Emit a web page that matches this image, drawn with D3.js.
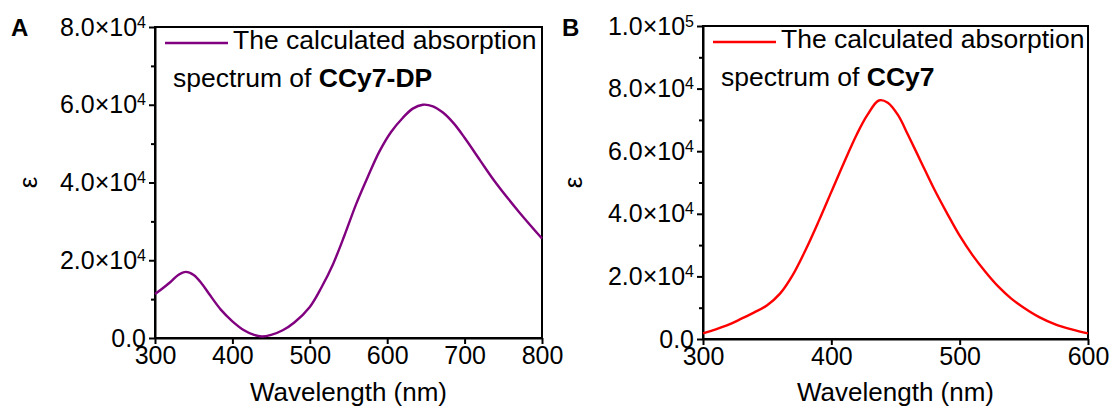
<!DOCTYPE html>
<html>
<head>
<meta charset="utf-8">
<script src="https://cdn.jsdelivr.net/npm/d3@7/dist/d3.min.js"></script>
<style>
  body { margin: 0; background: #fff; }
  svg { font-family: "Liberation Sans", Arial, sans-serif; }
</style>
</head>
<body>
<div id="chart"></div>
<script>
// Panel A - calculated spectrum of CCy7-DP
const wavelengthA = [300, 310, 320, 330, 340, 350, 360, 370, 385, 400, 415, 428, 438, 450, 465, 480, 500, 515, 530, 545, 560, 575, 590, 605, 620, 633, 646, 659, 672, 686, 700, 720, 740, 770, 800];
const epsA = [11300, 12800, 14400, 16200, 17000, 16200, 14100, 11300, 7300, 4300, 2000, 800, 400, 800, 2000, 4000, 8000, 13000, 19000, 26500, 34500, 41500, 48000, 53000, 56600, 59000, 60000, 59600, 58000, 55200, 51500, 45700, 40000, 32500, 25600];

// Panel B - calculated spectrum of CCy7
const wavelengthB = [300, 310, 320, 330, 340, 350, 360, 370, 380, 390, 400, 410, 420, 428, 437, 444, 452, 460, 470, 480, 490, 500, 510, 520, 530, 540, 550, 562, 575, 588, 600];
const epsB = [1800, 3100, 4600, 6500, 8500, 10800, 14500, 20500, 28500, 37500, 47000, 56500, 65500, 71500, 76200, 75500, 71500, 65000, 56500, 48000, 40300, 33000, 26800, 21500, 16800, 13000, 10000, 7000, 4600, 3000, 1800];

// Ticks
const xTicksA = [300, 400, 500, 600, 700, 800];
const yTicksA = [0, 20000, 40000, 60000, 80000];
const yMinorA = [10000, 30000, 50000, 70000];
const xTicksB = [300, 400, 500, 600];
const yTicksB = [0, 20000, 40000, 60000, 80000, 100000];
const yMinorB = [10000, 30000, 50000, 70000, 90000];

const svg = d3.select("#chart")
    .append("svg")
    .attr("width", 1116)
    .attr("height", 414);

const panels = [
    { letter: "A", left: 155, top: 27, right: 542, bottom: 338, xDomain: [300, 800], yDomain: [0, 80000],
      wl: wavelengthA, eps: epsA, xTicks: xTicksA, yTicks: yTicksA, yMinor: yMinorA,
      color: "#800080", name: "CCy7-DP", labelX: 11, epsX: 28 },
    { letter: "B", left: 703, top: 26, right: 1088, bottom: 339, xDomain: [300, 600], yDomain: [0, 100000],
      wl: wavelengthB, eps: epsB, xTicks: xTicksB, yTicks: yTicksB, yMinor: yMinorB,
      color: "#ff0000", name: "CCy7", labelX: 562, epsX: 573 }
];

// "8.0x10^4" style label
function sciLabel(sel) {
    sel.each(function(d) {
        const t = d3.select(this).text("");
        if (d === 0) { t.text("0.0"); return; }
        const e = Math.floor(Math.log10(d));
        const m = d / Math.pow(10, e);
        t.append("tspan").text(m.toFixed(1) + "\u00d710");
        t.append("tspan").attr("dy", "-0.5em").attr("font-size", "16px").text(e);
    });
}

panels.forEach(p => {
    const x = d3.scaleLinear().domain(p.xDomain).range([p.left, p.right]);
    const y = d3.scaleLinear().domain(p.yDomain).range([p.bottom, p.top]);

    // frame
    svg.append("rect")
        .attr("x", p.left).attr("y", p.top)
        .attr("width", p.right - p.left).attr("height", p.bottom - p.top)
        .attr("fill", "none").attr("stroke", "#000").attr("stroke-width", 2);

    const xAxis = svg.append("g")
        .attr("transform", `translate(0,${p.bottom})`)
        .call(d3.axisBottom(x).tickValues(p.xTicks).tickSize(6).tickSizeOuter(0).tickPadding(2));
    const yAxis = svg.append("g")
        .attr("transform", `translate(${p.left},0)`)
        .call(d3.axisLeft(y).tickValues(p.yTicks).tickSize(6).tickSizeOuter(0).tickPadding(3));
    const yMinor = svg.append("g")
        .attr("transform", `translate(${p.left},0)`)
        .call(d3.axisLeft(y).tickValues(p.yMinor).tickSize(4).tickFormat(""));
    yMinor.select(".domain").remove();

    [xAxis, yAxis, yMinor].forEach(g => {
        g.attr("font-family", null).attr("font-size", 25);
        g.selectAll("path, line").attr("stroke", "#000").attr("stroke-width", 2);
        g.selectAll("text").attr("fill", "#000");
    });
    yAxis.selectAll(".tick text").call(sciLabel);

    // spectrum
    const line = d3.line()
        .x((d, i) => x(p.wl[i]))
        .y(d => y(d))
        .curve(d3.curveCatmullRom.alpha(0.5));
    svg.append("path")
        .datum(p.eps)
        .attr("fill", "none")
        .attr("stroke", p.color)
        .attr("stroke-width", 2.4)
        .attr("d", line);

    // legend
    svg.append("line")
        .attr("x1", p.left + 10).attr("x2", p.left + 73)
        .attr("y1", p.top + 16).attr("y2", p.top + 16)
        .attr("stroke", p.color).attr("stroke-width", 2.4);
    svg.append("text")
        .attr("x", p.left + 78).attr("y", p.top + 22)
        .attr("font-size", 26.5)
        .text("The calculated absorption");
    const l2 = svg.append("text")
        .attr("x", p.left + 18).attr("y", p.top + 60)
        .attr("font-size", 26.5);
    l2.append("tspan").text("spectrum of ");
    l2.append("tspan").attr("font-weight", "bold").text(p.name);

    // axis titles
    svg.append("text")
        .attr("x", (p.left + p.right) / 2)
        .attr("y", 401)
        .attr("text-anchor", "middle")
        .attr("font-size", 26)
        .text("Wavelength (nm)");
    svg.append("text")
        .attr("transform", `translate(${p.epsX},${(p.top + p.bottom) / 2}) rotate(-90)`)
        .attr("text-anchor", "middle")
        .attr("dy", "0.35em")
        .attr("font-size", 26)
        .text("\u03b5");

    svg.append("text")
        .attr("x", p.labelX).attr("y", 36)
        .attr("font-size", 24)
        .attr("font-weight", "bold")
        .text(p.letter);
});
</script>
</body>
</html>
